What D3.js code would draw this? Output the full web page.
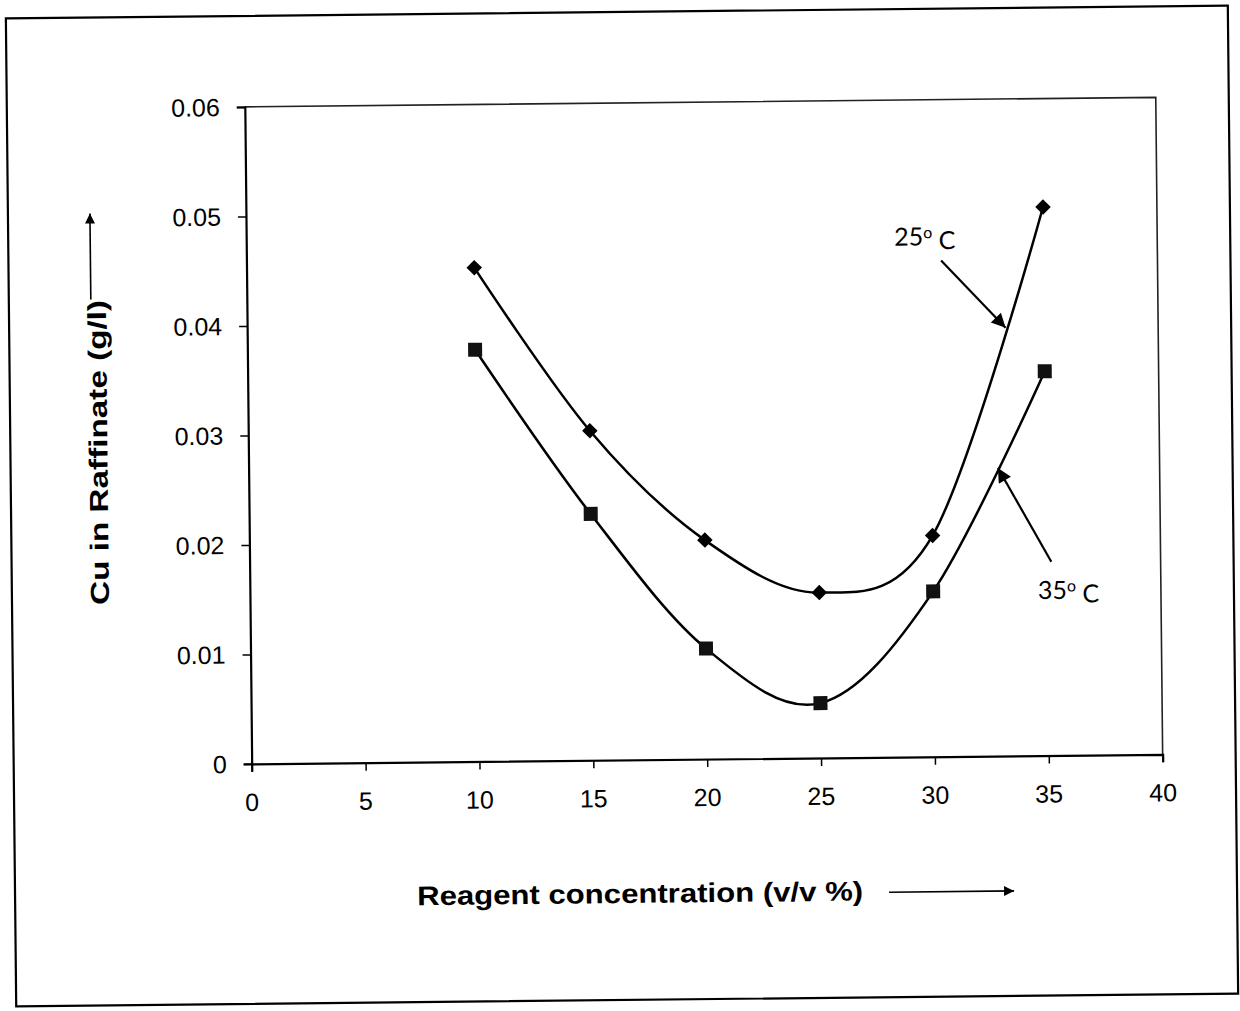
<!DOCTYPE html>
<html>
<head>
<meta charset="utf-8">
<script src="https://cdn.jsdelivr.net/npm/d3@7"></script>
<style>
  body { margin: 0; background: #fff; }
  svg { display: block; }
</style>
</head>
<body>
<div class="viz"></div>
<script>
// values
const concentration = [10, 15, 20, 25, 30, 35];
const cu25 = [0.0451, 0.0301, 0.0200, 0.0151, 0.0202, 0.0501];
const cu35 = [0.0376, 0.0225, 0.0101, 0.0050, 0.0151, 0.0351];
const xTicks = [0, 5, 10, 15, 20, 25, 30, 35, 40];
const yTicks = [0, 0.01, 0.02, 0.03, 0.04, 0.05, 0.06];
// annotation arrows, in data units: label position, arrow tail, arrow tip
const labels = [
  { text: "25", x: 28.45, y: 0.0467, tail: [30.5, 0.0453], tip: [33.3, 0.0391] },
  { text: "35", x: 34.6, y: 0.0143, tail: [35.2, 0.0177], tip: [32.9, 0.0263] }
];

const width = 1240, height = 1011;
const margin = { left: 249, right: 80, top: 103, bottom: 251 };

const svg = d3.select(".viz").append("svg")
  .attr("width", width)
  .attr("height", height);

// the scan is tilted a little, so everything sits in one rotated group
const root = svg.append("g").attr("transform", "rotate(-0.6, 620, 505)");

// outer frame
root.append("rect")
  .attr("x", 11).attr("y", 12)
  .attr("width", 1222).attr("height", 988)
  .attr("fill", "none")
  .attr("stroke", "#000")
  .attr("stroke-width", 2.2);

const x = d3.scaleLinear().domain([0, 40]).range([margin.left, width - margin.right]);
const y = d3.scaleLinear().domain([0, 0.06]).range([height - margin.bottom, margin.top]);

// plot area border (top and right)
root.append("path")
  .attr("d", `M${x(0)},${y(0.06)}H${x(40)}V${y(0)}`)
  .attr("fill", "none")
  .attr("stroke", "#222")
  .attr("stroke-width", 1.6);

// axes
const xAxis = d3.axisBottom(x).tickValues(xTicks).tickSize(8).tickFormat("");
const yAxis = d3.axisLeft(y).tickValues(yTicks).tickSize(8).tickFormat("");

root.append("g")
  .attr("transform", `translate(0,${y(0)})`)
  .call(xAxis)
  .call(g => g.select(".domain").attr("stroke-width", 2.2))
  .call(g => g.selectAll(".tick line").attr("stroke-width", 1.5));

root.append("g")
  .attr("transform", `translate(${x(0)},0)`)
  .call(yAxis)
  .call(g => g.select(".domain").attr("stroke-width", 2.2))
  .call(g => g.selectAll(".tick line").attr("stroke-width", 1.5));

// tick labels
root.append("g").selectAll("text")
  .data(xTicks)
  .enter().append("text")
  .attr("x", d => x(d))
  .attr("y", y(0) + 47)
  .attr("text-anchor", "middle")
  .style("font-family", "'Liberation Sans', Arial, sans-serif")
  .style("font-size", "25px")
  .text(d => d);

root.append("g").selectAll("text")
  .data(yTicks)
  .enter().append("text")
  .attr("x", x(0) - 25)
  .attr("y", d => y(d))
  .attr("dy", "0.36em")
  .attr("text-anchor", "end")
  .style("font-family", "'Liberation Sans', Arial, sans-serif")
  .style("font-size", "25px")
  .text(d => d === 0 ? "0" : d3.format(".2f")(d));

// curves
const line = d3.line()
  .x(d => x(d[0]))
  .y(d => y(d[1]))
  .curve(d3.curveCatmullRom.alpha(0));

const s25 = concentration.map((c, i) => [c, cu25[i]]);
const s35 = concentration.map((c, i) => [c, cu35[i]]);

[s25, s35].forEach(s => {
  root.append("path")
    .datum(s)
    .attr("d", line)
    .attr("fill", "none")
    .attr("stroke", "#000")
    .attr("stroke-width", 2.5);
});

root.append("g").selectAll("path")
  .data(s25)
  .enter().append("path")
  .attr("d", d3.symbol(d3.symbolSquare, 120))
  .attr("transform", d => `translate(${x(d[0])},${y(d[1])}) rotate(45)`)
  .attr("fill", "#000");

root.append("g").selectAll("rect")
  .data(s35)
  .enter().append("rect")
  .attr("x", d => x(d[0]) - 7)
  .attr("y", d => y(d[1]) - 7)
  .attr("width", 14)
  .attr("height", 14)
  .attr("fill", "#111");

// arrow heads
const defs = svg.append("defs");
defs.append("marker")
  .attr("id", "arrow")
  .attr("viewBox", "0 0 10 10")
  .attr("refX", 10).attr("refY", 5)
  .attr("markerUnits", "userSpaceOnUse")
  .attr("markerWidth", 16).attr("markerHeight", 14)
  .attr("orient", "auto")
  .append("path")
  .attr("d", "M0,0L10,5L0,10z")
  .attr("fill", "#000");

defs.append("marker")
  .attr("id", "arrowSmall")
  .attr("viewBox", "0 0 10 10")
  .attr("refX", 10).attr("refY", 5)
  .attr("markerUnits", "userSpaceOnUse")
  .attr("markerWidth", 12).attr("markerHeight", 10)
  .attr("orient", "auto")
  .append("path")
  .attr("d", "M0,0L10,5L0,10z")
  .attr("fill", "#000");

// temperature labels with arrows
labels.forEach(l => {
  root.append("line")
    .attr("x1", x(l.tail[0])).attr("y1", y(l.tail[1]))
    .attr("x2", x(l.tip[0])).attr("y2", y(l.tip[1]))
    .attr("stroke", "#000")
    .attr("stroke-width", 2.2)
    .attr("marker-end", "url(#arrow)");

  const t = root.append("text")
    .attr("x", x(l.x))
    .attr("y", y(l.y))
    .style("font-family", "Lato, 'Open Sans', sans-serif")
    .style("font-size", "25px");
  t.append("tspan").text(l.text);
  t.append("tspan")
    .attr("dy", "-0.45em")
    .style("font-size", "16px")
    .text("o");
  t.append("tspan")
    .attr("dy", "0.45em")
    .text("\u00a0C");
});

// axis titles with their arrows
root.append("text")
  .attr("x", 413)
  .attr("y", 903)
  .attr("textLength", 446)
  .attr("lengthAdjust", "spacingAndGlyphs")
  .style("font-family", "'Liberation Sans', Arial, sans-serif")
  .style("font-weight", "bold")
  .style("font-size", "27px")
  .text("Reagent concentration (v/v %)");

root.append("line")
  .attr("x1", 885).attr("y1", 895)
  .attr("x2", 1010).attr("y2", 895)
  .attr("stroke", "#000")
  .attr("stroke-width", 1.6)
  .attr("marker-end", "url(#arrowSmall)");

root.append("text")
  .attr("transform", "translate(108,447) rotate(-90)")
  .attr("text-anchor", "middle")
  .attr("textLength", 305)
  .attr("lengthAdjust", "spacingAndGlyphs")
  .style("font-family", "'Liberation Sans', Arial, sans-serif")
  .style("font-weight", "bold")
  .style("font-size", "26px")
  .text("Cu in Raffinate (g/l)");

root.append("line")
  .attr("x1", 93).attr("y1", 294)
  .attr("x2", 93).attr("y2", 208)
  .attr("stroke", "#000")
  .attr("stroke-width", 1.6)
  .attr("marker-end", "url(#arrowSmall)");
</script>
</body>
</html>
